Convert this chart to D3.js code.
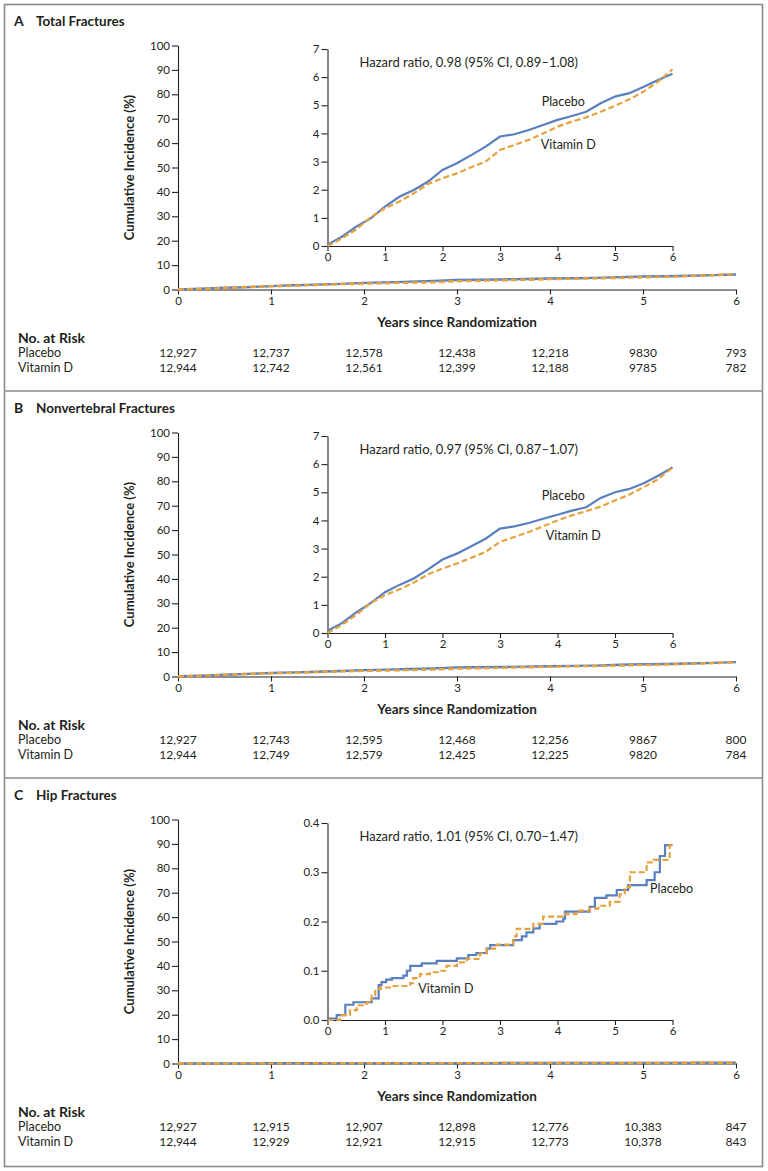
<!DOCTYPE html>
<html><head><meta charset="utf-8">
<script src="https://cdn.jsdelivr.net/npm/d3@7"></script>
<style>
body{margin:0;background:#fff}
svg{display:block}
text{font-family:Lato,"Open Sans",sans-serif;fill:#231f20}
</style>
</head><body>
<svg id="chart" width="768" height="1171"></svg>
<script>
// ---------- DATA ----------
const years = [0, 1, 2, 3, 4, 5, 6];
const mainYTicks = [0, 10, 20, 30, 40, 50, 60, 70, 80, 90, 100];
const panelLetters = ["A", "B", "C"];
const panelTitles = ["Total Fractures", "Nonvertebral Fractures", "Hip Fractures"];
const hazardTexts = [
  "Hazard ratio, 0.98 (95% CI, 0.89\u20131.08)",
  "Hazard ratio, 0.97 (95% CI, 0.87\u20131.07)",
  "Hazard ratio, 1.01 (95% CI, 0.70\u20131.47)"
];
const insetYMax = [7, 7, 0.4];
const insetYTicksA = [0, 1, 2, 3, 4, 5, 6, 7];
const insetYTicksB = [0, 1, 2, 3, 4, 5, 6, 7];
const insetYTicksC = [0, 0.1, 0.2, 0.3, 0.4];
const seriesNames = ["Placebo", "Vitamin D"];

// Panel A and B curves: time (years) and cumulative incidence (%)
const timesAB = [0, 0.25, 0.5, 0.75, 1, 1.25, 1.5, 1.75, 2, 2.25, 2.5, 2.75, 3, 3.25, 3.5, 3.75, 4, 4.25, 4.5, 4.75, 5, 5.25, 5.5, 5.75, 6];
const placeboA = [0.05, 0.33, 0.69, 0.98, 1.40, 1.75, 1.99, 2.29, 2.70, 2.94, 3.23, 3.53, 3.89, 3.97, 4.12, 4.30, 4.48, 4.62, 4.77, 5.07, 5.31, 5.43, 5.66, 5.90, 6.12];
const vitaminDA = [0.0, 0.27, 0.59, 1.02, 1.34, 1.58, 1.87, 2.20, 2.41, 2.58, 2.80, 3.00, 3.41, 3.59, 3.77, 4.00, 4.24, 4.42, 4.57, 4.77, 4.98, 5.21, 5.49, 5.84, 6.28];
const placeboB = [0.08, 0.35, 0.73, 1.06, 1.45, 1.71, 1.94, 2.26, 2.61, 2.82, 3.08, 3.35, 3.71, 3.79, 3.91, 4.06, 4.20, 4.35, 4.47, 4.80, 5.00, 5.12, 5.32, 5.59, 5.88];
const vitaminDB = [0.0, 0.29, 0.65, 1.06, 1.35, 1.55, 1.79, 2.09, 2.29, 2.47, 2.67, 2.88, 3.24, 3.41, 3.59, 3.79, 4.00, 4.18, 4.33, 4.49, 4.71, 4.92, 5.18, 5.47, 5.88];

// Panel C step curves: [years, cumulative incidence %]
const placeboC = [[0,0.003],[0.16,0.010],[0.31,0.031],[0.45,0.036],[0.77,0.044],[0.89,0.071],[0.94,0.077],[1.02,0.082],[1.12,0.085],[1.32,0.090],[1.38,0.100],[1.44,0.110],[1.64,0.115],[1.90,0.120],[2.25,0.125],[2.45,0.132],[2.59,0.136],[2.77,0.145],[2.83,0.152],[3.23,0.162],[3.38,0.170],[3.46,0.178],[3.58,0.186],[3.69,0.195],[3.98,0.200],[4.10,0.206],[4.13,0.220],[4.56,0.230],[4.65,0.248],[4.85,0.253],[5.03,0.264],[5.23,0.274],[5.55,0.284],[5.69,0.300],[5.78,0.333],[5.87,0.355],[6.0,0.355]];
const vitaminDC = [[0,0],[0.22,0.010],[0.39,0.020],[0.51,0.030],[0.68,0.036],[0.77,0.050],[0.83,0.063],[0.93,0.066],[1.15,0.069],[1.44,0.075],[1.49,0.085],[1.61,0.093],[1.78,0.097],[1.96,0.100],[2.07,0.110],[2.25,0.117],[2.42,0.124],[2.65,0.135],[2.77,0.145],[2.94,0.153],[3.23,0.170],[3.29,0.185],[3.58,0.195],[3.75,0.210],[4.10,0.215],[4.33,0.222],[4.56,0.226],[4.71,0.232],[4.91,0.240],[5.08,0.255],[5.17,0.270],[5.26,0.300],[5.55,0.320],[5.67,0.325],[5.95,0.355],[6.0,0.355]];

// Numbers at risk
const riskPlaceboA = ["12,927", "12,737", "12,578", "12,438", "12,218", "9830", "793"];
const riskVitDA    = ["12,944", "12,742", "12,561", "12,399", "12,188", "9785", "782"];
const riskPlaceboB = ["12,927", "12,743", "12,595", "12,468", "12,256", "9867", "800"];
const riskVitDB    = ["12,944", "12,749", "12,579", "12,425", "12,225", "9820", "784"];
const riskPlaceboC = ["12,927", "12,915", "12,907", "12,898", "12,776", "10,383", "847"];
const riskVitDC    = ["12,944", "12,929", "12,921", "12,915", "12,773", "10,378", "843"];

// ---------- BUILD ----------
const pair = (t, v) => t.map((d, i) => [d, v[i]]);
const panels = [
  {curves: [pair(timesAB, placeboA), pair(timesAB, vitaminDA)], step: false, yTicks: insetYTicksA, fmt: d3.format("d"),
   risk: [riskPlaceboA, riskVitDA], labels: [[541.7, 106], [540.7, 149]]},
  {curves: [pair(timesAB, placeboB), pair(timesAB, vitaminDB)], step: false, yTicks: insetYTicksB, fmt: d3.format("d"),
   risk: [riskPlaceboB, riskVitDB], labels: [[541.7, 113], [545.7, 153]]},
  {curves: [placeboC, vitaminDC], step: true, yTicks: insetYTicksC, fmt: d3.format(".1f"),
   risk: [riskPlaceboC, riskVitDC], labels: [[650, 119.3], [418.3, 218.7]]}
];

const colors = ["#5a7fbf", "#e6a23e"];
const svg = d3.select("#chart");
const PANEL_H = 387;

// frame
svg.append("rect").attr("x", 4.5).attr("y", 4.5).attr("width", 758).attr("height", 1162)
  .attr("fill", "none").attr("stroke", "#8a8a8a").attr("stroke-width", 1.6);
[1, 2].forEach(k => {
  svg.append("line").attr("x1", 4.5).attr("x2", 762.5)
    .attr("y1", 4 + k * PANEL_H).attr("y2", 4 + k * PANEL_H)
    .attr("stroke", "#8a8a8a").attr("stroke-width", 1.6);
});

const x = d3.scaleLinear().domain([0, 6]).range([178, 736]);
const y = d3.scaleLinear().domain([0, 100]).range([289.5, 45.5]);
const ix = d3.scaleLinear().domain([0, 6]).range([327.5, 672.5]);

function styleAxis(g, fs) {
  g.attr("font-family", null).attr("font-size", null);
  g.selectAll("path.domain").attr("stroke", "#231f20").attr("stroke-width", 1.1);
  g.selectAll(".tick line").attr("stroke", "#231f20").attr("stroke-width", 1.1);
  g.selectAll(".tick text").style("font-size", fs + "px").attr("fill", "#231f20");
}

panels.forEach((p, k) => {
  const g = svg.append("g").attr("transform", `translate(0,${k * PANEL_H})`);

  // title
  g.append("text").attr("x", 14).attr("y", 25.5).style("font-weight", 700).style("font-size", "14px").text(panelLetters[k]);
  g.append("text").attr("x", 36).attr("y", 25.5).style("font-weight", 700).style("font-size", "13.5px").text(panelTitles[k]);

  // main axes
  const gx = g.append("g").attr("transform", `translate(0,${y(0)})`)
    .call(d3.axisBottom(x).tickValues(years).tickSize(5).tickSizeOuter(0).tickPadding(2).tickFormat(d3.format("d")));
  styleAxis(gx, 11.5);
  const gy = g.append("g").attr("transform", `translate(${x(0)},0)`)
    .call(d3.axisLeft(y).tickValues(mainYTicks).tickSize(6).tickSizeOuter(0).tickPadding(2));
  styleAxis(gy, 11.5);

  g.append("text").attr("transform", `translate(134,${(y(0) + y(100)) / 2}) rotate(-90)`)
    .attr("text-anchor", "middle").style("font-weight", 700).style("font-size", "13px")
    .text("Cumulative Incidence (%)");
  g.append("text").attr("x", (x(0) + x(6)) / 2).attr("y", 327).attr("text-anchor", "middle")
    .style("font-weight", 700).style("font-size", "13.5px").text("Years since Randomization");

  const mainLine = d3.line().x(d => x(d[0])).y(d => y(d[1])).curve(p.step ? d3.curveStepAfter : d3.curveLinear);
  p.curves.forEach((c, i) => {
    g.append("path").attr("d", mainLine(c)).attr("fill", "none").attr("stroke", colors[i])
      .attr("stroke-width", 2.4).attr("stroke-dasharray", i === 1 ? "6,3" : null);
  });

  // inset
  const iy = d3.scaleLinear().domain([0, insetYMax[k]]).range([246, 49]);
  const ix_ax = g.append("g").attr("transform", `translate(0,${iy(0)})`)
    .call(d3.axisBottom(ix).tickValues(years).tickSize(5).tickSizeOuter(0).tickPadding(2).tickFormat(d3.format("d")));
  styleAxis(ix_ax, 11.5);
  const iy_ax = g.append("g").attr("transform", `translate(${ix(0)},0)`)
    .call(d3.axisLeft(iy).tickValues(p.yTicks).tickSize(6).tickSizeOuter(0).tickPadding(2).tickFormat(p.fmt));
  styleAxis(iy_ax, 11.5);

  const insetLine = d3.line().x(d => ix(d[0])).y(d => iy(d[1])).curve(p.step ? d3.curveStepAfter : d3.curveLinear);
  p.curves.forEach((c, i) => {
    g.append("path").attr("d", insetLine(c)).attr("fill", "none").attr("stroke", colors[i])
      .attr("stroke-width", 2.2).attr("stroke-dasharray", i === 1 ? "6,3" : null);
  });

  g.append("text").attr("x", 359.5).attr("y", 66.5).style("font-size", "13px").text(hazardTexts[k]);
  p.labels.forEach((l, i) => {
    g.append("text").attr("x", l[0]).attr("y", l[1]).style("font-size", "12.5px").text(seriesNames[i]);
  });

  // risk table
  g.append("text").attr("x", 18).attr("y", 342.5).style("font-weight", 700).style("font-size", "14px").text("No. at Risk");
  p.risk.forEach((row, i) => {
    const yy = 357.3 + i * 14.4;
    g.append("text").attr("x", 18).attr("y", yy).style("font-size", "12.5px").text(seriesNames[i]);
    g.selectAll(null).data(row).enter().append("text")
      .attr("x", (d, j) => x(years[j])).attr("y", yy).attr("text-anchor", "middle")
      .style("font-size", "12px").text(d => d);
  });
});
</script>
</body></html>
